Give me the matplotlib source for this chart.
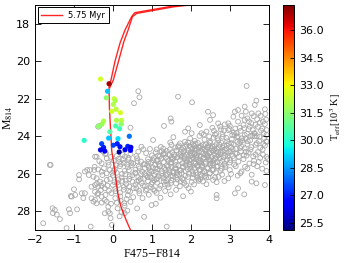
import numpy as np
import matplotlib
matplotlib.use('Agg')
import matplotlib.pyplot as plt

# isochrone (5.75 Myr), two branches of the upper track
iso_color = [0.46, 0.33, 0.20, 0.12, 0.07, 0.02, -0.03, -0.06, -0.09, -0.10,
             -0.10, -0.05, 0.05, 0.18, 0.31, 0.48, 0.56, 1.55, 2.10]
iso_mag = [29.05, 28.43, 27.72, 27.00, 26.20, 25.45, 24.80, 23.70, 22.50, 21.60,
           21.30, 21.00, 20.02, 19.04, 18.33, 17.62, 17.41, 17.05, 16.92]
iso2_color = [-0.08, 0.01, 0.14, 0.28, 0.39, 0.50, 0.61, 1.55, 2.10]
iso2_mag = [21.40, 21.00, 20.02, 18.95, 18.33, 17.62, 17.45, 17.10, 16.97]

# hot stars with temperatures (10^3 K)
star_color = [-0.32, -0.10, -0.14, -0.17, 0.03, 0.06, 0.01, -0.03, 0.08, 0.19,
              -0.24, -0.28, -0.37, 0.09, 0.22, 0.21, 0.07, 0.17, -0.08, -0.74,
              -0.11, 0.13, 0.42, -0.29, -0.24, -0.32, -0.21, 0.01, 0.11, 0.18,
              0.16, 0.31, 0.38, 0.46, 0.45]
star_mag = [20.95, 21.20, 21.60, 21.95, 22.00, 22.10, 22.30, 22.67, 22.56, 22.74,
            23.19, 23.35, 23.47, 23.15, 23.15, 23.35, 23.45, 23.60, 23.76, 24.22,
            24.10, 24.13, 24.00, 24.40, 24.60, 24.73, 24.79, 24.48, 24.40, 24.56,
            24.84, 24.72, 24.54, 24.59, 24.75]
star_teff = [32.5, 37.0, 29.0, 31.5, 32.3, 32.0, 32.0, 32.5, 32.2, 32.6,
             32.0, 31.8, 31.5, 32.0, 32.2, 31.5, 30.5, 30.3, 30.6, 30.0,
             29.0, 29.3, 28.0, 27.5, 27.0, 26.3, 26.5, 27.5, 27.0, 26.8,
             25.5, 26.5, 27.0, 26.3, 26.5]

# field stars (open grey circles), grouped by region
gray_left = [(-1.79, 28.64), (-1.60, 25.53), (-1.55, 27.84), (-1.54, 28.10), (-1.44, 28.18),
             (-1.36, 28.42), (-1.19, 28.90), (-1.13, 27.90), (-1.10, 28.10), (-1.08, 27.19),
             (-1.06, 27.22), (-1.00, 26.83), (-0.97, 27.13), (-0.92, 27.90), (-0.87, 26.07),
             (-0.87, 26.30), (-0.80, 27.04), (-0.76, 27.30), (-0.72, 25.88), (-0.72, 27.04),
             (-0.66, 25.80), (-0.62, 26.07), (-0.59, 25.80), (-0.57, 28.82), (-0.55, 26.69),
             (-0.55, 27.31), (-0.50, 26.16), (-0.50, 27.49), (-0.48, 25.80), (-0.46, 26.60),
             (-0.46, 26.96), (-0.46, 27.40), (-0.46, 25.09), (-0.42, 26.24), (-0.42, 27.58),
             (-0.42, 25.09), (-0.40, 27.10), (-0.38, 25.77), (-0.38, 26.69), (-0.38, 27.04),
             (-0.38, 23.49), (-0.35, 23.45), (-0.33, 26.42), (-0.29, 25.89), (-0.29, 26.65),
             (-0.29, 27.22), (-0.29, 27.54), (-0.29, 25.44), (-0.25, 26.51), (-0.25, 24.82),
             (-0.21, 26.78), (-0.21, 27.40), (-0.21, 28.11), (-0.18, 24.91), (-0.16, 25.98),
             (-0.16, 26.33), (-0.16, 27.49), (-0.16, 25.18), (-0.12, 27.76), (-0.12, 28.02),
             (-0.08, 25.80), (-0.08, 28.11), (-0.03, 28.73), (-1.62, 25.53), (-1.49, 27.93)]

gray_column = [(-0.20, 24.95), (-0.05, 25.10), (0.10, 25.05), (0.25, 24.98), (0.40, 25.15),
               (-0.12, 25.40), (0.08, 25.55), (0.20, 25.48), (-0.02, 25.95), (0.14, 26.30),
               (0.28, 26.70), (0.06, 27.30), (0.20, 27.45), (0.35, 27.35), (0.12, 27.85),
               (-0.05, 27.60), (0.00, 26.60), (-0.10, 26.90), (0.30, 28.10), (0.10, 27.55),
               (0.30, 27.70), (0.22, 28.05), (0.45, 27.50), (0.62, 27.85), (0.80, 28.30),
               (1.38, 28.82), (1.10, 27.60), (0.45, 23.54), (0.65, 21.60), (0.68, 21.92),
               (0.54, 22.24), (1.31, 23.45), (1.48, 23.05), (1.50, 23.22), (1.67, 21.89),
               (-0.47, 25.63), (-0.41, 26.53), (-0.35, 25.33), (-0.31, 26.87), (-0.27, 26.07),
               (-0.23, 25.71), (-0.19, 27.13), (-0.14, 26.63), (-0.11, 25.53), (-0.07, 26.27),
               (-0.04, 27.03), (0.03, 25.83), (0.07, 26.93), (0.11, 26.47), (0.16, 25.37),
               (0.19, 27.21), (0.23, 26.01), (0.26, 25.23), (0.29, 27.57), (0.33, 26.37),
               (0.36, 25.51), (0.39, 26.91), (0.41, 25.81), (0.17, 28.27), (-0.06, 28.37),
               (0.37, 27.97)]

gray_core = [
    (1.03, 24.20), (1.55, 24.05), (1.85, 24.29), (1.98, 24.12), (2.10, 24.25), (2.22, 23.98),
    (2.35, 24.18), (2.48, 24.30), (2.58, 24.08), (2.70, 24.22), (2.82, 24.02), (2.93, 24.27),
    (3.05, 24.15), (3.18, 24.05), (3.27, 24.28), (3.40, 24.12), (3.52, 24.22), (3.63, 24.00),
    (3.75, 24.25), (3.88, 24.10), (3.95, 24.30), (2.62, 23.92), (3.12, 23.95),
    (0.73, 24.56), (0.78, 24.70), (0.95, 24.68), (1.12, 24.70), (1.29, 24.66), (1.46, 24.70),
    (1.50, 24.45), (1.67, 24.56), (1.72, 24.38), (1.80, 24.62), (1.88, 24.45), (1.93, 24.33),
    (2.00, 24.58), (2.05, 24.42), (2.12, 24.66), (2.18, 24.36), (2.25, 24.52), (2.30, 24.68),
    (2.38, 24.44), (2.42, 24.60), (2.50, 24.35), (2.55, 24.55), (2.60, 24.69), (2.66, 24.42),
    (2.72, 24.58), (2.78, 24.34), (2.85, 24.50), (2.90, 24.66), (2.97, 24.40), (3.03, 24.58),
    (3.10, 24.44), (3.16, 24.67), (3.24, 24.38), (3.30, 24.55), (3.38, 24.65), (3.45, 24.42),
    (3.55, 24.58), (3.66, 24.46), (3.78, 24.62), (3.90, 24.50), (2.20, 24.62), (2.46, 24.48),
    (1.60, 24.60), (2.08, 24.50),
    (0.31, 25.09), (0.45, 24.95), (0.60, 25.05), (0.65, 24.82), (0.85, 24.90), (1.00, 25.02),
    (1.10, 24.85), (1.20, 25.08), (1.30, 24.92), (1.38, 24.78), (1.45, 25.00), (1.52, 24.86),
    (1.58, 25.07), (1.63, 24.75), (1.70, 24.95), (1.76, 25.10), (1.82, 24.80), (1.88, 24.98),
    (1.94, 24.74), (2.00, 25.05), (2.05, 24.88), (2.10, 24.76), (2.15, 25.00), (2.20, 24.84),
    (2.26, 25.08), (2.32, 24.92), (2.37, 24.78), (2.43, 25.02), (2.48, 24.88), (2.54, 24.75),
    (2.60, 24.98), (2.66, 25.10), (2.70, 24.85), (2.76, 24.96), (2.82, 24.78), (2.88, 25.04),
    (2.95, 24.90), (3.02, 24.80), (3.08, 25.05), (3.18, 24.92), (3.28, 24.80), (3.36, 25.02),
    (3.48, 24.88), (3.60, 25.08), (3.72, 24.84), (3.85, 24.98), (3.94, 25.10), (1.25, 24.80),
    (1.98, 24.90), (2.40, 24.95), (2.64, 24.80), (1.74, 24.84),
    (0.02, 25.30), (0.15, 25.20), (0.28, 25.42), (0.40, 25.25), (0.52, 25.45), (0.62, 25.18),
    (0.72, 25.35), (0.82, 25.50), (0.90, 25.22), (0.98, 25.40), (1.05, 25.15), (1.12, 25.32),
    (1.18, 25.48), (1.24, 25.20), (1.30, 25.38), (1.36, 25.14), (1.42, 25.30), (1.48, 25.46),
    (1.54, 25.22), (1.60, 25.36), (1.66, 25.12), (1.72, 25.28), (1.78, 25.44), (1.84, 25.18),
    (1.90, 25.34), (1.96, 25.50), (2.02, 25.24), (2.08, 25.40), (2.14, 25.16), (2.20, 25.30),
    (2.26, 25.46), (2.32, 25.20), (2.38, 25.36), (2.44, 25.12), (2.50, 25.28), (2.56, 25.44),
    (2.62, 25.22), (2.68, 25.38), (2.74, 25.16), (2.80, 25.32), (2.86, 25.48), (2.93, 25.24),
    (3.00, 25.40), (3.10, 25.18), (3.22, 25.35), (3.35, 25.22), (3.50, 25.45), (3.62, 25.30),
    (3.78, 25.15), (3.92, 25.40), (1.15, 25.25), (1.50, 25.38), (1.88, 25.26), (2.22, 25.42),
    (2.58, 25.30), (2.05, 25.12),
    (0.05, 25.75), (0.18, 25.60), (0.30, 25.85), (0.38, 25.65), (0.48, 25.55), (0.58, 25.78),
    (0.66, 25.62), (0.75, 25.88), (0.82, 25.70), (0.88, 25.54), (0.95, 25.82), (1.02, 25.66),
    (1.08, 25.52), (1.14, 25.76), (1.20, 25.60), (1.26, 25.86), (1.32, 25.70), (1.38, 25.56),
    (1.44, 25.80), (1.50, 25.64), (1.56, 25.88), (1.62, 25.72), (1.68, 25.56), (1.74, 25.82),
    (1.80, 25.66), (1.86, 25.52), (1.92, 25.76), (1.98, 25.62), (2.04, 25.88), (2.10, 25.70),
    (2.16, 25.55), (2.22, 25.80), (2.28, 25.64), (2.35, 25.86), (2.42, 25.68), (2.50, 25.54),
    (2.58, 25.78), (2.66, 25.62), (2.76, 25.84), (2.88, 25.66), (3.00, 25.80), (3.15, 25.60),
    (3.30, 25.88), (3.45, 25.72), (3.70, 25.60), (3.94, 25.85), (1.10, 25.90), (1.64, 25.94),
    (2.30, 25.96), (0.92, 25.66),
    (0.00, 26.10), (0.10, 25.95), (0.22, 26.20), (0.32, 26.02), (0.42, 26.28), (0.50, 26.08),
    (0.58, 25.94), (0.65, 26.18), (0.72, 26.02), (0.80, 26.26), (0.86, 26.10), (0.93, 25.96),
    (1.00, 26.22), (1.06, 26.06), (1.12, 26.30), (1.18, 26.14), (1.24, 25.98), (1.30, 26.24),
    (1.36, 26.08), (1.42, 26.28), (1.48, 26.12), (1.55, 25.96), (1.62, 26.20), (1.70, 26.04),
    (1.78, 26.26), (1.86, 26.10), (1.95, 26.00), (2.04, 26.22), (2.14, 26.06), (2.24, 26.28),
    (2.36, 26.12), (2.48, 25.98), (2.62, 26.20), (2.80, 26.05), (2.96, 26.25), (3.20, 26.10),
    (3.56, 26.05), (1.40, 26.00), (0.95, 26.14),
    (0.04, 26.45), (0.14, 26.60), (0.24, 26.38), (0.34, 26.55), (0.42, 26.68), (0.50, 26.42),
    (0.58, 26.58), (0.66, 26.35), (0.74, 26.50), (0.82, 26.66), (0.90, 26.40), (0.98, 26.56),
    (1.06, 26.34), (1.14, 26.48), (1.22, 26.64), (1.30, 26.42), (1.40, 26.58), (1.50, 26.36),
    (1.62, 26.52), (1.74, 26.40), (1.88, 26.62), (2.02, 26.44), (2.20, 26.38), (2.40, 26.56),
    (2.66, 26.45), (3.56, 26.42), (3.68, 26.51), (3.90, 26.60), (3.21, 26.78),
    (0.06, 26.80), (0.18, 27.00), (0.28, 26.85), (0.38, 27.15), (0.44, 26.95), (0.52, 27.25),
    (0.60, 26.78), (0.68, 27.05), (0.76, 27.30), (0.84, 26.90), (0.92, 27.12), (1.03, 26.82),
    (1.12, 27.02), (1.22, 27.28), (1.34, 26.92), (1.48, 27.10), (1.62, 26.86), (1.80, 27.20),
    (2.00, 26.95), (2.66, 27.13), (2.66, 27.31), (3.13, 27.04), (3.37, 27.10), (0.99, 27.67)]

gray_dense = [
    (1.23, 24.57), (1.34, 24.91), (1.41, 25.63), (1.47, 24.33), (1.53, 25.19), (1.57, 24.97),
    (1.61, 25.54), (1.64, 26.07), (1.69, 24.49), (1.71, 25.83), (1.73, 25.02), (1.77, 24.71),
    (1.79, 25.61), (1.81, 26.33), (1.83, 25.09), (1.85, 24.57), (1.87, 25.87), (1.89, 25.41),
    (1.91, 24.87), (1.93, 26.17), (1.95, 25.27), (1.97, 24.51), (1.99, 25.73), (2.01, 25.01),
    (2.03, 24.67), (2.04, 25.57), (2.06, 26.03), (2.07, 25.19), (2.09, 24.93), (2.11, 25.47),
    (2.12, 24.39), (2.13, 25.93), (2.15, 25.11), (2.16, 24.71), (2.18, 25.63), (2.19, 26.31),
    (2.21, 25.03), (2.23, 24.57), (2.24, 25.79), (2.25, 25.33), (2.27, 24.83), (2.28, 26.09),
    (2.29, 25.55), (2.31, 24.47), (2.33, 25.13), (2.34, 25.91), (2.36, 24.69), (2.37, 25.47),
    (2.39, 26.21), (2.41, 25.07), (2.43, 24.59), (2.44, 25.71), (2.46, 25.23), (2.47, 24.91),
    (2.49, 25.97), (2.51, 25.43), (2.52, 24.63), (2.53, 25.09), (2.55, 25.81), (2.57, 24.79),
    (2.58, 25.53), (2.61, 24.53), (2.63, 25.17), (2.64, 25.93), (2.67, 24.67), (2.69, 25.59),
    (2.71, 25.01), (2.73, 24.45), (2.75, 25.41), (2.77, 24.87), (2.79, 25.73), (2.81, 24.61),
    (2.84, 25.13), (2.87, 24.73), (2.89, 25.57), (2.92, 24.49), (2.94, 25.07), (2.98, 24.81),
    (3.01, 25.27), (3.04, 24.37), (3.07, 24.69), (3.11, 25.51), (3.14, 24.91), (3.19, 24.31),
    (3.23, 25.09), (3.26, 24.63), (3.32, 24.23), (3.41, 24.83), (3.46, 24.27), (3.53, 24.71),
    (3.58, 23.97), (3.69, 24.37), (3.76, 24.03), (3.84, 24.71), (3.93, 24.27),
    (0.43, 26.13), (0.47, 25.41), (0.53, 26.77), (0.57, 25.97), (0.61, 26.43), (0.63, 25.33),
    (0.67, 26.91), (0.69, 25.71), (0.71, 26.27), (0.77, 26.63), (0.79, 25.49), (0.81, 26.01),
    (0.87, 26.83), (0.89, 26.19), (0.91, 25.37), (0.97, 26.71), (0.99, 25.89), (1.01, 26.47),
    (1.04, 25.29), (1.07, 26.91), (1.09, 25.73), (1.13, 26.23), (1.16, 25.03), (1.19, 26.79),
    (1.21, 25.57), (1.27, 26.11), (1.29, 24.97), (1.33, 26.57), (1.35, 25.79), (1.37, 26.39),
    (1.39, 25.21), (1.43, 26.73), (1.45, 25.93), (1.49, 26.49), (1.51, 25.11), (1.54, 26.13),
    (1.59, 25.71), (1.66, 26.31), (1.72, 26.67), (1.76, 25.97), (1.83, 26.49), (1.94, 26.77),
    (2.08, 26.57), (2.17, 26.21), (2.31, 26.41), (2.45, 26.19), (2.57, 26.33), (2.71, 26.17),
    (2.86, 26.39), (3.03, 26.01), (3.27, 25.97), (3.39, 25.63), (3.61, 25.49), (3.83, 25.73),
    (3.97, 25.21), (3.74, 25.37), (3.43, 25.03), (3.66, 24.97), (3.86, 24.41)]

gray_upper = [(3.43, 21.32), (2.03, 22.19), (2.44, 22.69), (2.57, 22.87), (3.13, 22.69),
              (3.21, 22.60), (3.38, 22.42), (3.64, 22.33), (3.68, 22.10), (3.90, 22.56),
              (3.56, 22.78), (3.73, 22.78), (3.85, 23.22), (3.38, 23.13), (3.21, 23.22),
              (2.96, 23.31), (2.70, 23.31), (2.49, 23.13), (2.23, 23.40), (1.93, 23.58),
              (1.85, 23.76), (2.02, 23.84), (2.27, 23.84), (2.96, 23.67), (3.09, 22.96),
              (3.94, 23.67), (3.94, 23.93), (3.64, 23.84), (3.38, 23.93), (2.55, 23.55),
              (2.75, 23.48), (2.85, 23.70), (3.00, 23.45), (3.10, 23.80), (3.25, 23.55),
              (3.35, 23.40), (3.48, 23.62), (3.55, 23.30), (3.62, 23.85), (3.72, 23.50),
              (3.80, 23.70), (3.90, 23.35), (3.45, 23.05), (3.30, 22.90), (3.70, 23.10),
              (2.40, 23.75), (2.65, 23.85), (3.20, 24.00),
              (2.33, 23.91), (2.47, 24.01), (2.59, 23.71), (2.68, 24.11), (2.77, 23.63),
              (2.81, 23.89), (2.91, 24.09), (2.99, 23.61), (3.06, 23.93), (3.14, 23.59),
              (3.17, 23.83), (3.28, 23.71), (3.31, 24.11), (3.37, 23.57), (3.44, 23.87),
              (3.51, 23.49), (3.59, 23.67), (3.66, 23.39), (3.69, 23.99), (3.77, 23.27),
              (3.83, 23.59), (3.87, 23.83), (3.93, 23.11), (3.61, 22.93), (3.49, 23.21),
              (3.79, 22.91), (3.41, 22.69), (3.91, 22.81), (3.53, 23.99), (2.87, 23.37)]

fig = plt.figure(figsize=(3.49, 2.63), dpi=100)
ax = fig.add_axes([0.1003, 0.1255, 0.670, 0.8555])
cax = fig.add_axes([0.811, 0.1255, 0.0315, 0.8555])

for pts in (gray_left, gray_column, gray_core, gray_dense, gray_upper):
    gx, gy = np.array(pts).T
    ax.scatter(gx, gy, s=12, facecolors='none', edgecolors='#a8a8a8',
               linewidths=0.6, zorder=1)

ax.plot(iso_color, iso_mag, color='red', lw=1.0, alpha=0.85, zorder=2,
        label='5.75 Myr')
ax.plot(iso2_color, iso2_mag, color='red', lw=1.0, alpha=0.85, zorder=2)

sc = ax.scatter(star_color, star_mag, c=star_teff, cmap='jet', vmin=25.12, vmax=37.36,
                s=14, edgecolors='none', zorder=3)

ax.set_xlim(-2, 4)
ax.set_ylim(29, 17)
ax.set_xticks([-2, -1, 0, 1, 2, 3, 4])
ax.set_yticks([18, 20, 22, 24, 26, 28])
ax.tick_params(direction='in', top=True, right=True, labelsize=8, length=4, width=0.6)
for sp in ax.spines.values():
    sp.set_linewidth(0.7)

ax.set_xlabel('F475$-$F814', family='Liberation Serif', fontsize=8.5,
              math_fontfamily='stix', labelpad=2)
ax.set_ylabel('M$_{\\rm 814}$', family='Liberation Serif', fontsize=8.5,
              math_fontfamily='stix', labelpad=1)

leg = ax.legend(loc='upper left', fontsize=6, fancybox=False, handlelength=2.5,
                borderaxespad=0.3, borderpad=0.4, framealpha=1)
leg.get_frame().set_edgecolor('black')
leg.get_frame().set_linewidth(0.7)

cb = fig.colorbar(sc, cax=cax)
cb.set_ticks([25.5, 27.0, 28.5, 30.0, 31.5, 33.0, 34.5, 36.0])
cb.ax.tick_params(labelsize=8, direction='in', length=3, width=0.6)
cb.outline.set_linewidth(0.7)
cb.set_label('T$_{\\rm eff}$[10$^3$ K]', family='Liberation Serif', fontsize=7.5,
             math_fontfamily='stix', labelpad=3)

fig.savefig('out.png', dpi=100)
